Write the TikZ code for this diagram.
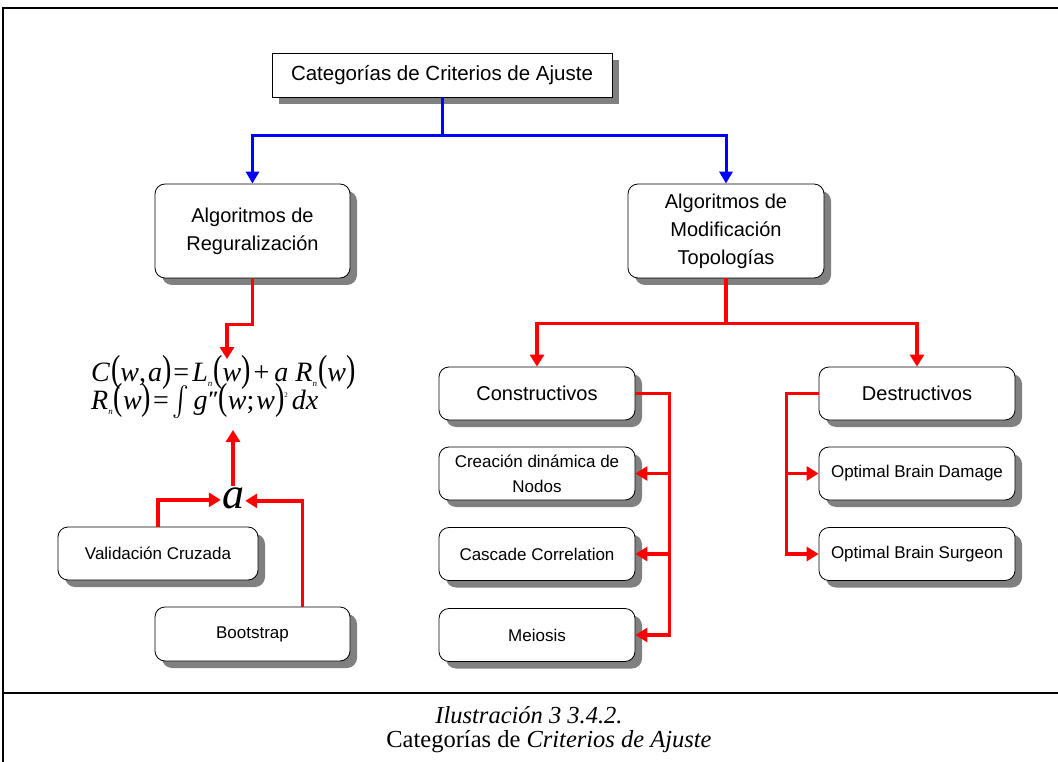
\documentclass[tikz,border=0pt]{standalone}
\usepackage{amsmath}
\usepackage{fontspec}
\setmainfont{Liberation Serif}
\setsansfont{Liberation Sans}
\usetikzlibrary{arrows.meta,shadows,positioning,calc}
\newcommand{\lp}{\kern1pt\scalebox{1}[1.35]{(}}
\newcommand{\rp}{\scalebox{1}[1.35]{)}\kern1pt}
\newcommand{\sbn}{\raisebox{-5pt}{\fontsize{9}{9}\selectfont\textit{n}}}
\tikzset{
  shad/.style={drop shadow={shadow xshift=7pt,shadow yshift=-7pt,fill=black!50,opacity=1}},
  topbox/.style={draw=black,line width=0.8pt,fill=white,shad,minimum width=340pt,minimum height=44pt,font=\sffamily\fontsize{20.5}{24}\selectfont,inner sep=0pt},
  rbox/.style={draw=black,line width=0.8pt,fill=white,rounded corners=10pt,shad,minimum width=196pt,minimum height=53pt,font=\sffamily\fontsize{20}{28}\selectfont,align=center,inner sep=0pt},
  sbox/.style={rbox,font=\sffamily\fontsize{17}{25}\selectfont},
  formula/.style={font=\fontsize{28}{29}\selectfont,inner sep=0pt,anchor=base west},
  bluearr/.style={draw={rgb,255:red,0;green,0;blue,255},line width=3pt,-{Triangle[length=12pt,width=13pt]}},
  redarr/.style={draw={rgb,255:red,255;green,0;blue,0},line width=3.5pt,-{Triangle[length=12pt,width=14pt]}},
}
\begin{document}
\begin{tikzpicture}[x=1pt,y=-1pt]
\useasboundingbox (0,0) rectangle (1058,762);
% frame
\draw[line width=2pt] (3,762) -- (3,8) -- (1058,8);
\draw[line width=2pt] (3,693) -- (1058,693);
% caption
\node[font=\fontsize{24.5}{28}\selectfont] (cap1) at (529,715) {\itshape Ilustración 3 3.4.2.};
\node[font=\fontsize{24.5}{28}\selectfont] (cap2) at (549,742) {Categorías de \textit{Criterios de Ajuste}};
% nodes
\node[topbox] (top) at (442,75) {Categorías de Criterios de Ajuste};
\node[rbox,minimum width=195pt,minimum height=94pt] (reg) at (252.5,231) {Algoritmos de\\Reguralización};
\node[rbox,minimum width=196pt,minimum height=94pt] (mod) at (726,231) {Algoritmos de\\Modificación\\Topologías};
\node[rbox] (con) at (537,393.5) {Constructivos};
\node[sbox] (cre) at (537,473.5) {Creación dinámica de\\Nodos};
\node[sbox] (cas) at (537,554) {Cascade Correlation};
\node[sbox] (mei) at (537,635) {Meiosis};
\node[rbox] (des) at (917,393.5) {Destructivos};
\node[sbox] (obd) at (917,473.5) {Optimal Brain Damage};
\node[sbox] (obs) at (917,554) {Optimal Brain Surgeon};
\node[sbox,minimum width=200pt] (val) at (158,553.5) {Validación Cruzada};
\node[sbox,minimum width=195pt,minimum height=54pt] (boot) at (252.5,634) {Bootstrap};
% formula
\node[formula] (f1) at (91,381)
 {\textit{C}\lp\textit{w},\kern2pt\textit{a}\rp\kern1pt=\kern3pt\textit{L}\sbn\lp\textit{w}\rp\kern2pt+\kern5pt\textit{a}\kern7pt\textit{R}\sbn\lp\textit{w}\rp};
\node[formula] (f2) at (91,409)
 {\textit{R}\sbn\lp\textit{w}\rp\kern1pt=\kern4pt\raisebox{-1pt}{\scalebox{1}[1.2]{$\int$}}\kern4pt\textit{g}\kern0pt\raisebox{3pt}{\fontsize{22}{22}\selectfont\bfseries\itshape ″}\kern-2pt\lp\textit{w};\kern2pt\textit{w}\rp\kern-1pt\raisebox{12pt}{\fontsize{7}{7}\selectfont 2}\kern4pt\textit{dx}};
\coordinate (fin) at (227,359);
\coordinate (fout) at (233,430);
\node[font=\fontsize{44}{44}\selectfont\itshape,inner sep=1pt,anchor=base] (a) at (233,508) {a};
% connectors
\draw[bluearr] (top.south) -- ++(0,38) -| (reg.north);
\draw[bluearr] (top.south) -- ++(0,38) -| (mod.north);
\draw[redarr] (reg.south) -- ++(0,46) -| (fin);
\draw[redarr] (mod.south) -- ++(0,45) -| (con.north);
\draw[redarr] (mod.south) -- ++(0,45) -| (des.north);
\draw[redarr] (con.east) -- ++(34,0) |- (cre.east);
\draw[redarr] (con.east) -- ++(34,0) |- (cas.east);
\draw[redarr] (con.east) -- ++(34,0) |- (mei.east);
\draw[redarr] (des.west) -- ++(-32,0) |- (obd.west);
\draw[redarr] (des.west) -- ++(-32,0) |- (obs.west);
\draw[redarr] (a.north -| fout) -- (fout);
\draw[redarr] (val.north) |- ($(a.west)+(0,2)$);
\draw[redarr] ($(boot.north)+(50,0)$) |- ($(a.east)+(0,3)$);
\end{tikzpicture}
\end{document}
